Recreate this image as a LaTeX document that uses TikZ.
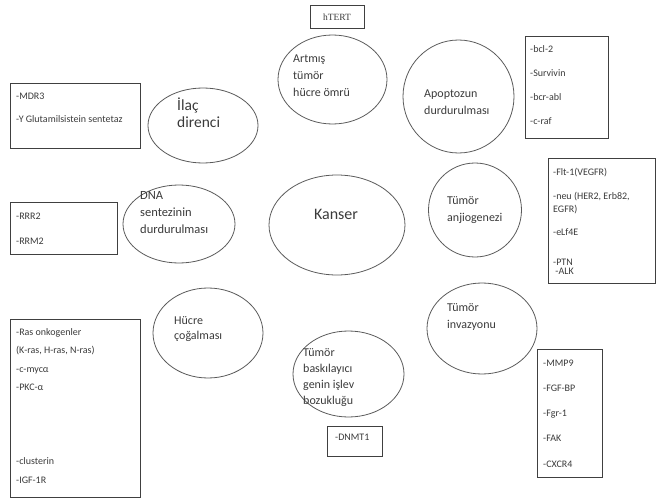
\documentclass[tikz,border=0pt]{standalone}
\usepackage{fontspec}
\setmainfont{Carlito}
\newfontfamily\htfont{Liberation Serif}
\usetikzlibrary{shapes.geometric, positioning}

\definecolor{txtgray}{HTML}{3A3A3A}
\definecolor{linegray}{HTML}{5A5A5A}
\definecolor{boxgray}{HTML}{404040}

% lines of a text, first baseline on the node's base
\newcommand{\stacklines}[1]{\begin{tabular}[t]{@{}l@{}}#1\end{tabular}}

\begin{document}
\begin{tikzpicture}[x=1pt,y=-1pt]

\tikzstyle{myellipse}=[draw=linegray,line width=0.8pt,ellipse,inner sep=0pt]
\tikzstyle{mybox}=[draw=boxgray,line width=0.8pt,rectangle,inner sep=0pt]
\tikzstyle{mytext}=[text=txtgray,inner sep=0pt,anchor=base west,font=\fontsize{12}{17}\selectfont]
\tikzstyle{myitems}=[text=txtgray,inner sep=0pt,anchor=base west,font=\fontsize{10}{12}\selectfont]

\useasboundingbox (0,0) rectangle (657,498);

% ELLIPSES
\node[myellipse,minimum width=109pt,minimum height=89pt](artmis) at (332.5,79.5){};
\node[myellipse,minimum width=111pt,minimum height=113pt](apop) at (458.5,96.5){};
\node[myellipse,minimum width=110pt,minimum height=75pt](ilac) at (203,125.5){};
\node[myellipse,minimum width=112pt,minimum height=78pt](dna) at (179,224){};
\node[myellipse,minimum width=136pt,minimum height=100pt](kanser) at (337,225){};
\node[myellipse,minimum width=93pt,minimum height=94pt](anjio) at (475,210){};
\node[myellipse,minimum width=110pt,minimum height=91pt](invaz) at (482,328.5){};
\node[myellipse,minimum width=111pt,minimum height=86pt](baski) at (348.5,374){};
\node[myellipse,minimum width=110pt,minimum height=90pt](hucre) at (208,333){};

% ELLIPSE TEXTS
\node[mytext](artmis-t) at (293,62){\stacklines{Artmış\\tümör\\hücre ömrü}};
\node[mytext](apop-t) at (424,97){\stacklines{Apoptozun\\durdurulması}};
\node[mytext,font=\fontsize{15.5}{17}\selectfont](ilac-t) at (177,110){\stacklines{İlaç\\direnci}};
\node[mytext,font=\fontsize{12.5}{17}\selectfont](dna-t) at (140,199){\stacklines{DNA\\sentezinin\\durdurulması}};
\node[mytext,anchor=base,font=\fontsize{16}{19}\selectfont](kanser-t) at (336,219){Kanser};
\node[mytext](anjio-t) at (447,204){\stacklines{Tümör\\anjiogenezi}};
\node[mytext](invaz-t) at (447,311){\stacklines{Tümör\\invazyonu}};
\node[mytext,font=\fontsize{12}{16}\selectfont](baski-t) at (303,356){\stacklines{Tümör\\baskılayıcı\\genin işlev\\bozukluğu}};
\node[mytext,font=\fontsize{12}{15.5}\selectfont](hucre-t) at (174,324){\stacklines{Hücre\\çoğalması}};

% BOXES
\node[mybox,minimum width=54pt,minimum height=23pt](htert) at (337,16.5){};
\node[mybox,minimum width=83pt,minimum height=102pt](apbox) at (566.5,87){};
\node[mybox,minimum width=130pt,minimum height=65pt](mdr) at (75,115.5){};
\node[mybox,minimum width=107pt,minimum height=52pt](rrr) at (63.5,228){};
\node[mybox,minimum width=107pt,minimum height=125pt](flt) at (601.5,220.5){};
\node[mybox,minimum width=65pt,minimum height=128pt](mmp) at (569.5,413){};
\node[mybox,minimum width=55pt,minimum height=30pt](dnmt) at (354.5,441){};
\node[mybox,minimum width=130pt,minimum height=178pt](ras) at (75,408){};

% BOX TEXTS
\node[myitems,anchor=base,font=\htfont\fontsize{9.5}{12}\selectfont](htert-t) at (337,20){hTERT};
\node[myitems](apbox-t) at (530,52){\stacklines{-bcl-2\\[12pt]-Survivin\\[12pt]-bcr-abl\\[12pt]-c-raf}};
\node[myitems](mdr-t) at (16,99){\stacklines{-MDR3\\[11pt]-Y Glutamilsistein sentetaz}};
\node[myitems](rrr-t) at (16,219){\stacklines{-RRR2\\[13pt]-RRM2}};
\node[myitems](flt-t) at (553,175){\stacklines{-Flt-1(VEGFR)\\[12pt]-neu (HER2, Erb82,\\[1pt]EGFR)\\[11pt]-eLf4E\\[18pt]-PTN\\[-3pt]\ -ALK}};
\node[myitems](mmp-t) at (543,366){\stacklines{-MMP9\\[13pt]-FGF-BP\\[13pt]-Fgr-1\\[13pt]-FAK\\[14pt]-CXCR4}};
\node[myitems](dnmt-t) at (335,440){-DNMT1};
\node[myitems](ras-t) at (16,335){\stacklines{-Ras onkogenler\\[6.5pt](K-ras, H-ras, N-ras)\\[6.5pt]-c-mycα\\[6.5pt]-PKC-α\\[62pt]-clusterin\\[7pt]-IGF-1R}};

\end{tikzpicture}
\end{document}
